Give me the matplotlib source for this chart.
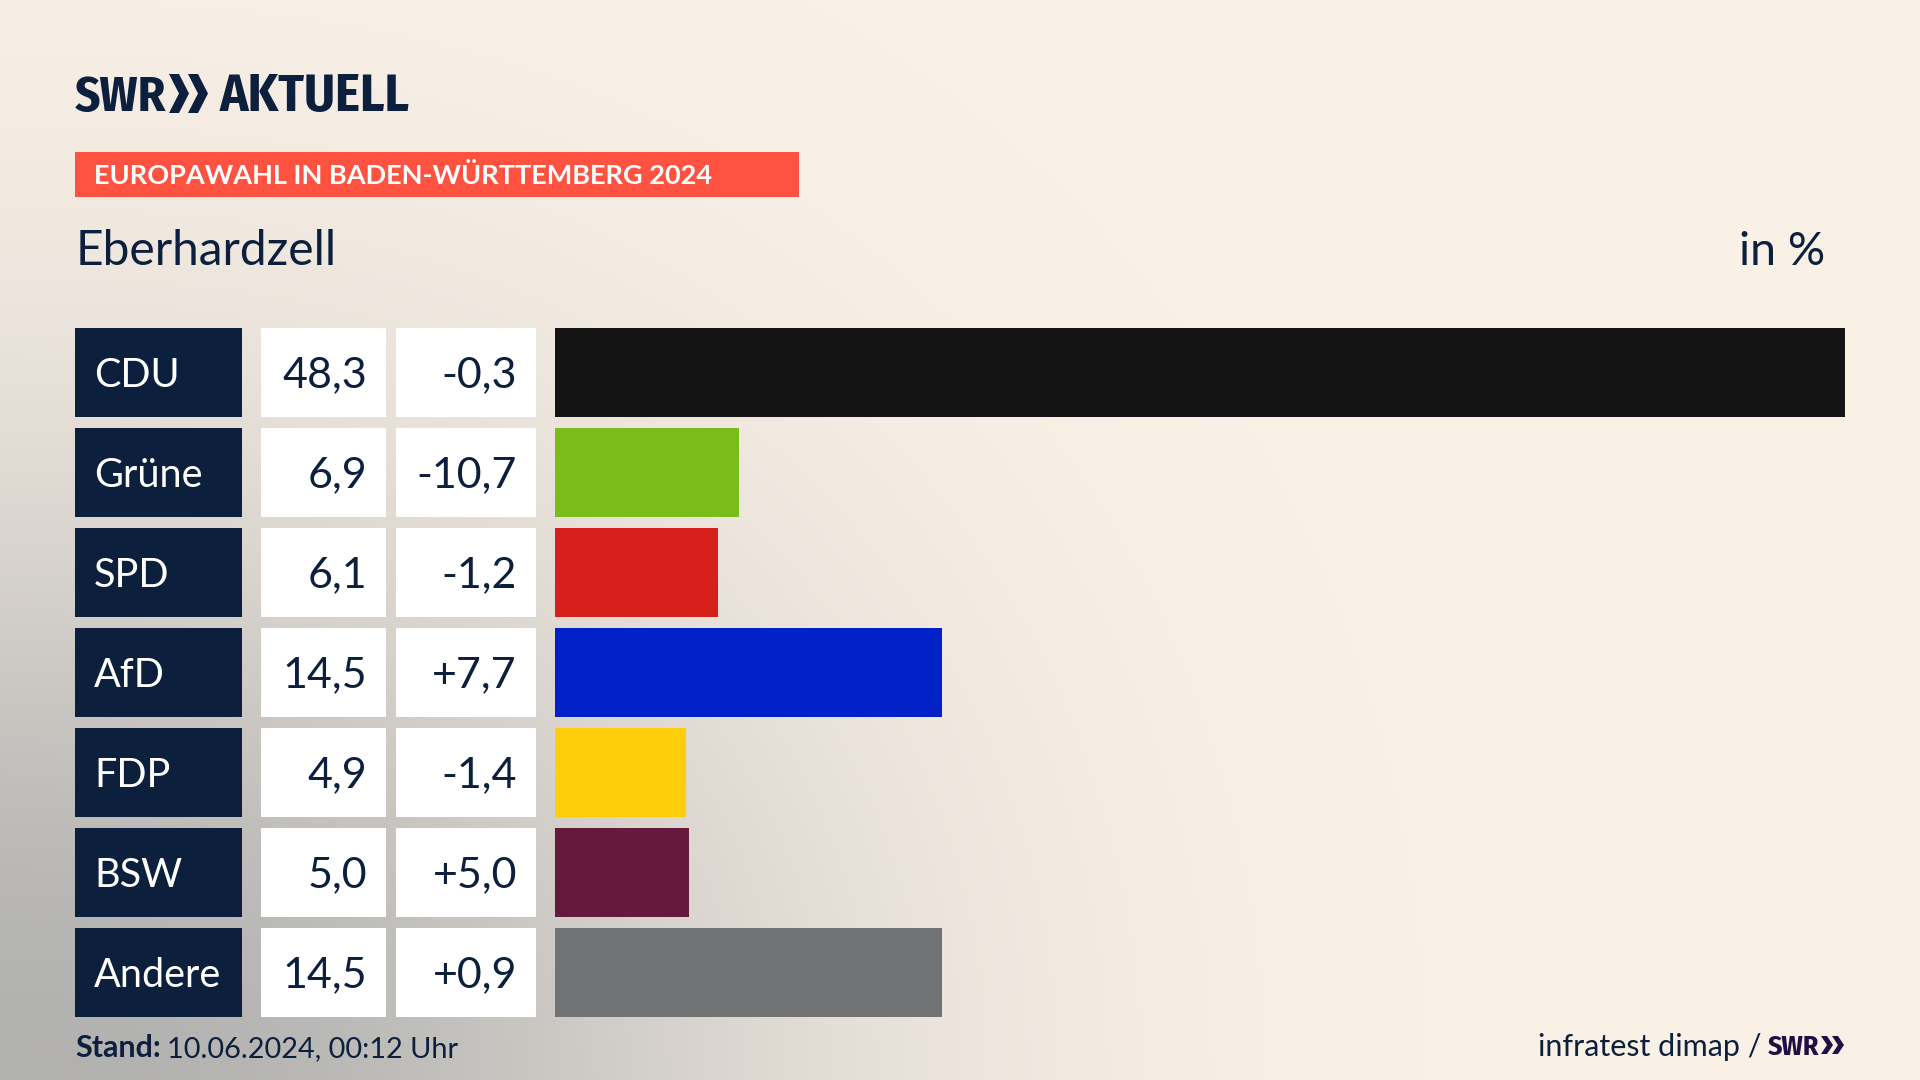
import numpy as np
import matplotlib
matplotlib.use("Agg")
import matplotlib.pyplot as plt
from matplotlib.patches import Rectangle, Polygon

parties = ["CDU", "Grüne", "SPD", "AfD", "FDP", "BSW", "Andere"]
shares = [48.3, 6.9, 6.1, 14.5, 4.9, 5.0, 14.5]
share_labels = ["48,3", "6,9", "6,1", "14,5", "4,9", "5,0", "14,5"]
diff_labels = ["-0,3", "-10,7", "-1,2", "+7,7", "-1,4", "+5,0", "+0,9"]
colors = ["#141414", "#7ABD1B", "#D7201C", "#0021C8", "#FFCD09", "#66183D", "#707274"]

NAVY = "#0C1F3D"
FONT = "Lato"
NARROW = ["Fira Sans Condensed", "Lato"]
W, H = 1920, 1080
fig = plt.figure(figsize=(19.2, 10.8), dpi=100)

# page in pixel coordinates
bg = fig.add_axes([0, 0, 1, 1])
bg.set_xlim(0, W); bg.set_ylim(H, 0); bg.axis("off")
yy, xx = np.mgrid[0:H:270j, 0:W:480j]
t = (0.88 * np.exp(-(xx / 780) ** 2.4 - ((H - yy) / 605) ** 2))[..., None]
cream = np.array([0xFA, 0xF1, 0xE7]) / 255
grey = np.array([0xA8, 0xA9, 0xA9]) / 255
bg.imshow(cream * (1 - t) + grey * t, extent=[0, W, H, 0], aspect="auto", zorder=0, interpolation="bilinear")

def txt(x, y, s, size, color=NAVY, ha="left", weight="normal", family=FONT, **kw):
    bg.text(x, y, s, fontsize=size, color=color, ha=ha, va="baseline", weight=weight, family=family, zorder=5, **kw)

def chevrons(x, y0, y1, w, gap, color):
    mid = (y0 + y1) / 2
    for i in range(2):
        o = x + i * gap
        bg.add_patch(Polygon([(o, y0), (o + w * .5, y0), (o + w, mid), (o + w * .5, y1), (o, y1), (o + w * .5, mid)],
                             closed=True, fc=color, ec="none", zorder=5))

# header
txt(75, 111, "SWR", 35.5, weight="bold", family=NARROW)
chevrons(169, 74, 113, 20, 19, NAVY)
txt(220, 111, "AKTUELL", 38, weight="bold", family=NARROW)
bg.add_patch(Rectangle((75, 152), 724, 45, fc="#FF5240", ec="none", zorder=2))
txt(94, 184, "EUROPAWAHL IN BADEN-WÜRTTEMBERG 2024", 19.5, color="white", weight="bold")
txt(76, 265, "Eberhardzell", 34.5)
txt(1825, 265, "in %", 33.5, ha="right")

# table cells
row_top = 328
row_step = 100
row_h = 88.5
for i, (p, s, d_label) in enumerate(zip(parties, share_labels, diff_labels)):
    top = row_top + i * row_step
    base = top + row_h / 2 + 15
    bg.add_patch(Rectangle((75, top), 167, row_h, fc=NAVY, ec="none", zorder=2))
    bg.add_patch(Rectangle((261, top), 125, row_h, fc="white", ec="none", zorder=2))
    bg.add_patch(Rectangle((396, top), 140, row_h, fc="white", ec="none", zorder=2))
    txt(94, base, p, 28.5, color="white")
    txt(367, base, s, 31, ha="right")
    txt(517, base, d_label, 31, ha="right")

# bars
ax = fig.add_axes([555 / W, 1 - (row_top - 5.75 + 7 * row_step) / H, (1845 - 555) / W, 7 * row_step / H])
ax.patch.set_alpha(0)
ax.barh(range(len(parties)), shares, height=row_h / row_step, color=colors)
ax.set_xlim(0, 48.3)
ax.set_ylim(len(parties) - 0.5, -0.5)
ax.axis("off")

# footer
txt(75, 1057, "Stand:", 22, weight="bold")
txt(167, 1057, "10.06.2024, 00:12 Uhr", 20.8)
txt(1761, 1056, "infratest dimap /", 22, ha="right")
txt(1768, 1055, "SWR", 20, color="#1F0F45", weight="bold", family=NARROW)
chevrons(1821, 1036, 1054, 12, 11, "#1F0F45")

fig.savefig("out.png", dpi=100)
